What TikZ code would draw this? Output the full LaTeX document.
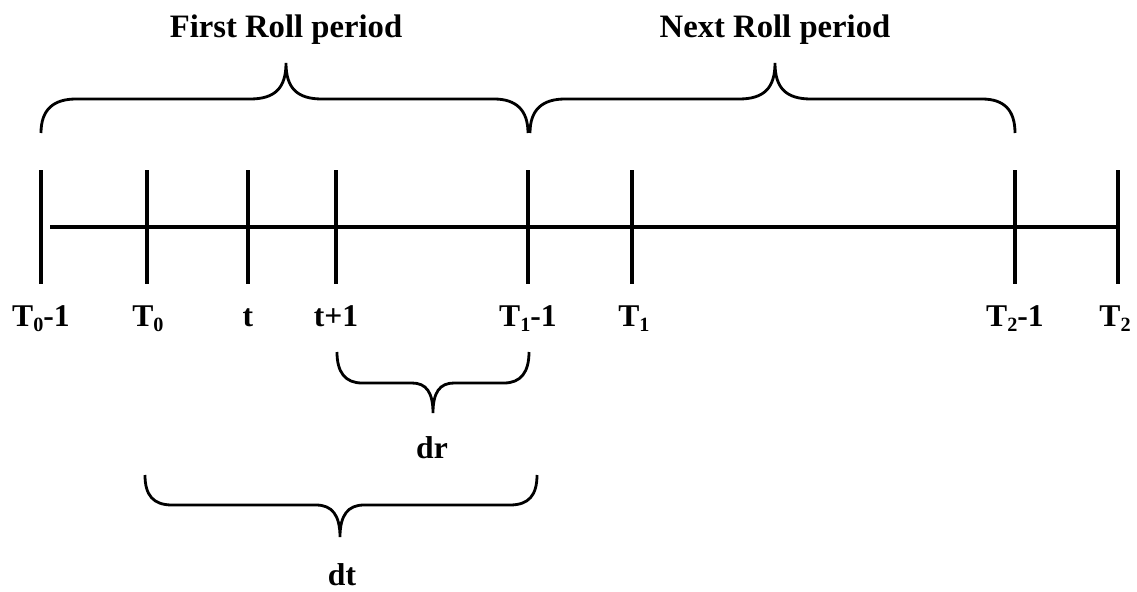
\documentclass[tikz,border=0pt]{standalone}
\usepackage{fontspec}
\setmainfont{Liberation Serif}
\newcommand{\lowsub}[1]{\raisebox{-0.4ex}{\fontsize{11.5}{12}\selectfont #1}}
\begin{document}
\begin{tikzpicture}[x=0.02cm,y=-0.02cm,
  tick/.style={line width=1.9pt},
  axis/.style={line width=1.9pt},
  brace/.style={line width=1.6pt},
  lbl/.style={font=\fontsize{18}{20}\selectfont\bfseries, inner sep=0pt, anchor=base},
  ttl/.style={font=\fontsize{18.6}{20}\selectfont\bfseries, inner sep=0pt, anchor=base}]
\useasboundingbox (0,0) rectangle (1137,592);
% tick coordinates
\foreach \n/\x in {a/41,b/147,c/248,d/336,e/528,f/632,g/1015,h/1118}{
  \coordinate (\n) at (\x,227);
  \coordinate (\n top) at (\x,170);
  \coordinate (\n bot) at (\x,284);
  \draw[tick] (\n top) -- (\n bot);
}
\coordinate (start) at (50,227);
\draw[axis] (start) -- (h);
% tick labels
\node[lbl] (la) at (41,326) {T\lowsub{0}-1};
\node[lbl] (lb) at (148,326) {T\lowsub{0}};
\node[lbl] (lc) at (248,326) {t};
\node[lbl] (ld) at (336,326) {t+1};
\node[lbl] (le) at (528,326) {T\lowsub{1}-1};
\node[lbl] (lf) at (634,326) {T\lowsub{1}};
\node[lbl] (lg) at (1015,326) {T\lowsub{2}-1};
\node[lbl] (lh) at (1115,326) {T\lowsub{2}};
% top braces
\draw[brace] (41,133) .. controls (41,110) and (53,99) .. (76,99) -- (250,99)
  .. controls (275,99) and (286,88) .. (286,63)
  .. controls (286,88) and (297,99) .. (322,99) -- (494,99)
  .. controls (516,99) and (528,110) .. (528,133);
\draw[brace] (530,133) .. controls (530,110) and (542,99) .. (565,99) -- (739,99)
  .. controls (764,99) and (775,88) .. (775,63)
  .. controls (775,88) and (786,99) .. (811,99) -- (982,99)
  .. controls (1004,99) and (1015,110) .. (1015,133);
\node[ttl] (first) at (286,37) {First Roll period};
\node[ttl] (next) at (775,37) {Next Roll period};
% bottom braces
\draw[brace] (337,352) .. controls (337,372) and (345,383) .. (362,383) -- (412,383)
  .. controls (426,383) and (433,392) .. (433,413)
  .. controls (433,392) and (440,383) .. (454,383) -- (504,383)
  .. controls (521,383) and (529,372) .. (529,352);
\node[lbl] (dr) at (432,458) {dr};
\draw[brace] (145,475) .. controls (145,495) and (153,505) .. (172,505) -- (316,505)
  .. controls (332,505) and (340,515) .. (340,537)
  .. controls (340,515) and (348,505) .. (364,505) -- (510,505)
  .. controls (529,505) and (537,495) .. (537,475);
\node[lbl] (dt) at (342,585) {dt};
\end{tikzpicture}
\end{document}
